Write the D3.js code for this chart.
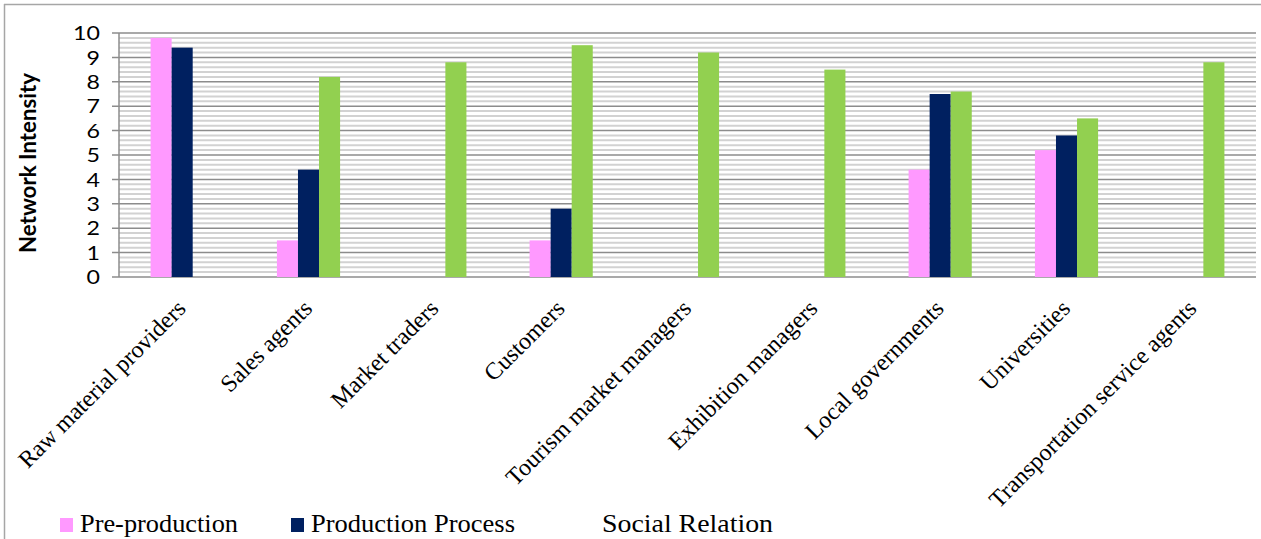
<!DOCTYPE html>
<html>
<head>
<meta charset="utf-8">
<script src="https://cdn.jsdelivr.net/npm/d3@7"></script>
<style>
  html, body { margin: 0; padding: 0; background: #fff; }
  svg { display: block; }
</style>
</head>
<body>
<svg id="chart" width="1261" height="539"></svg>
<script>
const categories = ["Raw material providers", "Sales agents", "Market traders", "Customers",
  "Tourism market managers", "Exhibition managers", "Local governments", "Universities",
  "Transportation service agents"];
const seriesNames = ["Pre-production", "Production Process", "Social Relation"];
const preProduction = [9.8, 1.5, null, 1.5, null, null, 4.4, 5.2, null];
const productionProcess = [9.4, 4.4, null, 2.8, null, null, 7.5, 5.8, null];
const socialRelation = [null, 8.2, 8.8, 9.5, 9.2, 8.5, 7.6, 6.5, 8.8];
const yTickValues = [0, 1, 2, 3, 4, 5, 6, 7, 8, 9, 10];
const yTitle = "Network Intensity";

const colors = ["#FF99FF", "#002060", "#92D050"];
const seriesValues = [preProduction, productionProcess, socialRelation];
const SX = 1.16; // horizontal stretch of the sans tick labels
const SERIF = "Liberation Serif, Times New Roman, serif";
const SANS = "Lato, Noto Sans, sans-serif";

const svg = d3.select("#chart");
const plot = { left: 119, right: 1256, top: 33, bottom: 277 };

function measure(txt, size, family, weight) {
  const t = svg.append("text").attr("font-family", family).attr("font-size", size)
    .attr("font-weight", weight || "normal").text(txt);
  const w = t.node().getComputedTextLength();
  t.remove();
  return w;
}

// frame
svg.append("line").attr("x1", 4).attr("x2", 1261).attr("y1", 4.5).attr("y2", 4.5)
  .attr("stroke", "#a6a6a6").attr("stroke-width", 1.5);
svg.append("line").attr("x1", 4.5).attr("x2", 4.5).attr("y1", 4).attr("y2", 539)
  .attr("stroke", "#a6a6a6").attr("stroke-width", 1.5);

const x = d3.scaleBand().domain(categories).range([plot.left, plot.right]).padding(0);
const y = d3.scaleLinear().domain([0, 10]).range([plot.bottom, plot.top]);
const bw = x.bandwidth();
const xs = d3.scaleBand().domain(seriesNames).range([bw * 0.25, bw * 0.75]).padding(0);

// minor gridlines
const minor = d3.range(0, 50).map(i => i * 0.2).filter(v => Math.abs(v - Math.round(v)) > 1e-6);
svg.append("g").selectAll("line").data(minor).join("line")
  .attr("x1", plot.left).attr("x2", plot.right)
  .attr("y1", d => y(d)).attr("y2", d => y(d))
  .attr("stroke", "#d2d2d2").attr("stroke-width", 2);

// major gridlines
svg.append("g").selectAll("line").data(yTickValues).join("line")
  .attr("x1", plot.left - 7).attr("x2", plot.right)
  .attr("y1", d => y(d)).attr("y2", d => y(d))
  .attr("stroke", "#8c8c8c").attr("stroke-width", 1.5);

// y axis line
svg.append("line").attr("x1", plot.left).attr("x2", plot.left)
  .attr("y1", plot.top).attr("y2", plot.bottom)
  .attr("stroke", "#8c8c8c").attr("stroke-width", 1.5);

// bars
seriesNames.forEach((name, si) => {
  const data = categories.map((c, i) => ({ c, v: seriesValues[si][i] })).filter(d => d.v != null);
  svg.append("g").selectAll("rect").data(data).join("rect")
    .attr("x", d => x(d.c) + xs(name))
    .attr("width", xs.bandwidth())
    .attr("y", d => y(d.v))
    .attr("height", d => y(0) - y(d.v))
    .attr("fill", colors[si]);
});

// y tick labels
svg.append("g").selectAll("text").data(yTickValues).join("text")
  .attr("transform", d => `translate(100,${y(d)}) scale(${SX},1)`)
  .attr("text-anchor", "end").attr("dy", "0.36em")
  .attr("font-family", SANS).attr("font-size", 20)
  .attr("fill", "#000").text(d => d);

// y title (fit to the reference length ~180px)
const titleSize = 21 * 180 / measure(yTitle, 21, SANS, "bold");
svg.append("text")
  .attr("transform", `translate(36,163) rotate(-90)`)
  .attr("text-anchor", "middle")
  .attr("font-family", SANS).attr("font-weight", "bold")
  .attr("font-size", titleSize).attr("fill", "#000").text(yTitle);

// x labels
svg.append("g").selectAll("text").data(categories).join("text")
  .attr("transform", d => `translate(${x(d) + bw / 2 + 5},310) rotate(-45)`)
  .attr("text-anchor", "end")
  .attr("font-family", SERIF).attr("font-size", 24)
  .attr("fill", "#000").text(d => d);

// legend
const legendX = [60, 291, 582];
const legendTextWidth = [158, 204, 171];
const legendShowSwatch = [true, true, false];
seriesNames.forEach((name, i) => {
  if (legendShowSwatch[i]) {
    svg.append("rect").attr("x", legendX[i]).attr("y", 518).attr("width", 13).attr("height", 14)
      .attr("fill", colors[i]);
  }
  svg.append("text")
    .attr("x", legendX[i] + 20).attr("y", 532)
    .attr("textLength", legendTextWidth[i]).attr("lengthAdjust", "spacingAndGlyphs")
    .attr("font-family", SERIF).attr("font-size", 25)
    .attr("fill", "#000").text(name);
});
</script>
</body>
</html>
